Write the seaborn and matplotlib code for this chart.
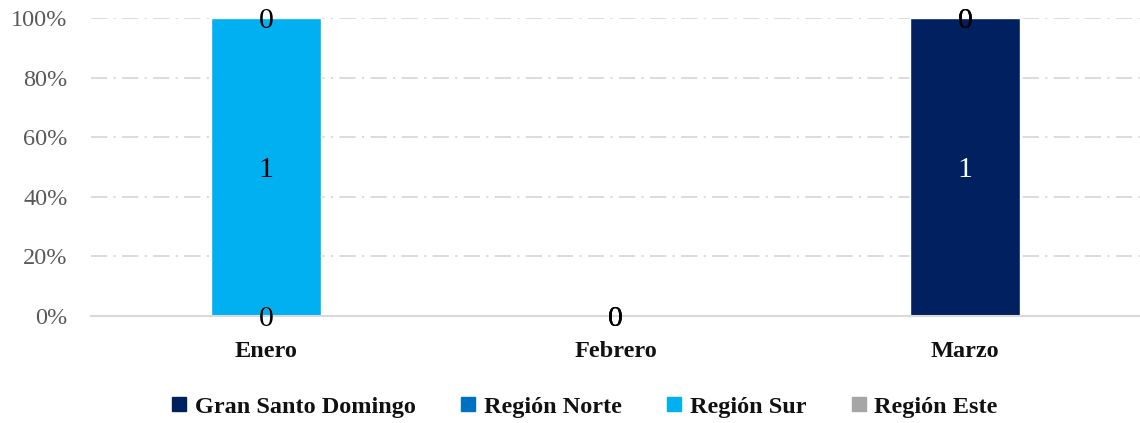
import numpy as np
import pandas as pd
import matplotlib
matplotlib.use("Agg")
import matplotlib.pyplot as plt
from matplotlib.lines import Line2D
import seaborn as sns

# ==========================================
# Data (counts per region and month)
# ==========================================
months = ["Enero", "Febrero", "Marzo"]
regions = ["Gran Santo Domingo", "Región Norte", "Región Sur", "Región Este"]
gran_santo_domingo = [0, 0, 1]
region_norte = [0, 0, 0]
region_sur = [1, 0, 0]
region_este = [0, 0, 0]

colors = ["#002060", "#0070C0", "#00B0F0", "#A6A6A6"]
label_colors = {"Gran Santo Domingo": "white"}

sns.set_theme(style="white")
plt.rcParams['font.family'] = ['Liberation Serif', 'DejaVu Serif']

counts = pd.DataFrame(
    [gran_santo_domingo, region_norte, region_sur, region_este],
    index=regions, columns=months,
)
totals = counts.sum(axis=0)
shares = counts.div(totals.replace(0, np.nan), axis=1).fillna(0)
cumulative = shares.cumsum(axis=0)

fig = plt.figure(figsize=(11.4, 4.23), dpi=100)
ax = fig.add_axes([0.08, 0.253, 0.92, 0.704])

# stacked bars: draw cumulative layers from the top down
for region, color in reversed(list(zip(regions, colors))):
    sns.barplot(x=months, y=cumulative.loc[region].values, color=color,
                saturation=1, width=0.316, ax=ax, zorder=3)

# data labels at the middle of each segment
for region in regions:
    tops = cumulative.loc[region].values
    vals = shares.loc[region].values
    for i, month in enumerate(months):
        y = tops[i] - vals[i] / 2
        ax.text(i, y, str(counts.loc[region, month]), ha="center", va="center_baseline",
                fontsize=21.5, color=label_colors.get(region, "black"), zorder=5)

ax.set_ylim(0, 1)
ax.set_xlim(-0.5, 2.5)
ax.set_yticks(np.arange(0, 1.01, 0.2))
ax.set_yticklabels([f"{int(v * 100)}%" for v in np.arange(0, 1.01, 0.2)])
ax.tick_params(axis="y", labelsize=17.5, labelcolor="#595959", pad=17, length=0)
ax.tick_params(axis="x", labelsize=17.5, labelcolor="#111111", pad=18, length=0)
for lbl in ax.get_xticklabels():
    lbl.set_fontweight("bold")
ax.set_xlabel("")
ax.set_ylabel("")

for v in np.arange(0.2, 1.01, 0.2):
    ax.axhline(v, color="#d9d9d9", lw=1.3, linestyle=(0, (9, 3.5, 1.2, 3.5)), zorder=1)
for side in ["top", "right", "left"]:
    ax.spines[side].set_visible(False)
ax.spines["bottom"].set_color("#d9d9d9")
ax.spines["bottom"].set_linewidth(1.5)
ax.spines["bottom"].set_zorder(4)

handles = [Line2D([0], [0], marker="s", linestyle="", markersize=10.5,
                  markerfacecolor=c, markeredgecolor=c) for c in colors]
fig.legend(handles, regions, loc="center", bbox_to_anchor=(0.513, 0.038),
           ncol=4, frameon=False, handlelength=0.6, handletextpad=0.35,
           columnspacing=1.85, labelcolor="#111111",
           prop={"size": 17.5, "weight": "bold"})

fig.savefig("out.png", dpi=100)
